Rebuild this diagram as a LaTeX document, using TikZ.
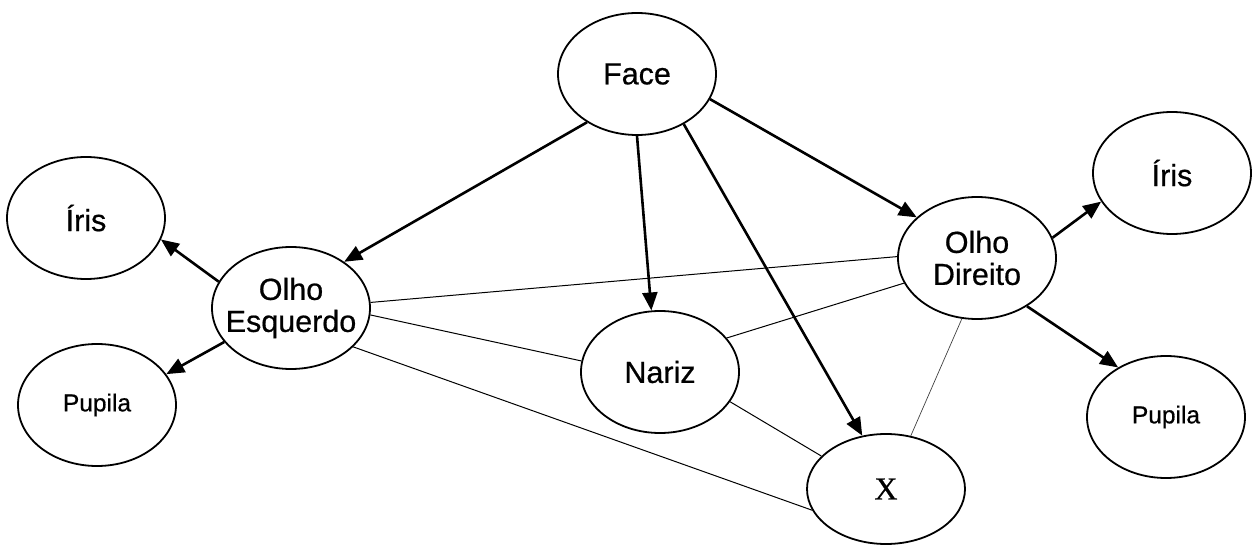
\documentclass[tikz,border=0pt]{standalone}
\usepackage{fontspec}
\setmainfont[FakeBold=0.6]{Liberation Sans}
\newfontfamily\serifx[FakeBold=0.6]{Liberation Serif}
\usetikzlibrary{shapes.geometric,arrows.meta}
\begin{document}
\begin{tikzpicture}[x=1pt,y=-1pt,
  ov/.style={ellipse,draw,line width=1.8pt,minimum width=158pt,minimum height=122pt,inner sep=0pt},
  big/.style={font=\fontsize{30.5}{32}\selectfont,align=center,inner sep=0pt},
  small/.style={font=\fontsize{24.5}{26}\selectfont,inner sep=0pt},
  arr/.style={line width=2.6pt,-{Triangle[length=18pt,width=15pt]}},
  thinl/.style={line width=1pt},
  faint/.style={line width=0.7pt,black!75}]
\useasboundingbox (0,0) rectangle (1253,545);
\node[ov,label={[big]center:Face}] (face) at (637,74) {};
\node[ov,label={[big]center:Íris}] (irisl) at (86,218) {};
\node[ov,label={[big]center:{Olho\\Esquerdo}}] (oe) at (291,308) {};
\node[ov,label={[small]center:Pupila}] (pupl) at (97,405) {};
\node[ov,label={[big]center:Nariz}] (nariz) at (660,372) {};
\node[ov,minimum height=110pt,label={[inner sep=0pt,font=\serifx\fontsize{32}{32}\selectfont]center:X}] (x) at (886,489) {};
\node[ov,label={[big]center:{Olho\\Direito}}] (od) at (977,258) {};
\node[ov,label={[big]center:Íris}] (irisr) at (1172,173) {};
\node[ov,label={[small]center:Pupila}] (pupr) at (1166,417) {};
% arrows
\draw[arr] (face.224) -- (oe.41);
\draw[arr] (face.270) -- (nariz.98);
\draw[arr] (face.313) -- (x.114);
\draw[arr] (face.341) -- (od.146);
\draw[arr] (oe.160) -- (irisl.344);
\draw[arr] (oe.207) -- (pupl.24);
\draw[arr] (od.15) -- (irisr.202);
\draw[arr] (od.316) -- (pupr.134);
% undirected links
\draw[thinl] (oe.4) -- (od.179);
\draw[thinl] (oe.355) -- (nariz.172);
\draw[thinl] (oe.328) -- (x.196);
\draw[thinl] (nariz.27) -- (od.199);
\draw[thinl] (nariz.337) -- (x.153);
\draw[faint] (od.256) -- (x.65);
\end{tikzpicture}
\end{document}
